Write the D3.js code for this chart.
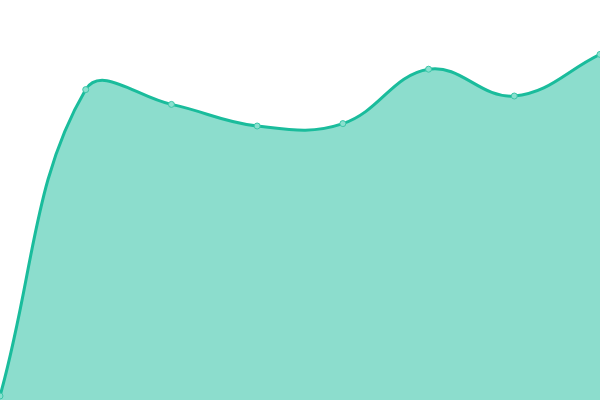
<html>
<head>
<style>
body{ margin:0; background:#fff; }
.area{ fill:#1abc9c; fill-opacity:0.5; stroke:none; }
.line{ fill:none; stroke:#1abc9c; stroke-width:3px; }
.dot{ fill:#8ae0cf; stroke:#3cc6a8; stroke-width:1px; }
</style>
</head>
<body>
<div id="chart"></div>
<script src="https://cdn.jsdelivr.net/npm/d3@7"></script>
<script>
var labels  = ['1', '2', '3', '4', '5', '6', '7', '8'],
    values  = [1, 77.6, 73.9, 68.5, 69.1, 82.7, 76, 86.4],
    tension = 0.4,
    width   = 600,
    height  = 400;

var x = d3.scalePoint().domain(labels).range([0, width]);
var y = d3.scaleLinear().domain([0, 100]).range([height, 0]);

var svg = d3.select('#chart')
    .append('svg')
    .attr('width', width)
    .attr('height', height);

// distance weighted spline, like the one the original chart used
function splinePath(pts, p) {
    var n = pts.length, cps = [];
    pts.forEach(function(cur, i) {
        var prev = pts[Math.max(i - 1, 0)],
            next = pts[Math.min(i + 1, n - 1)],
            d01 = Math.hypot(cur[0] - prev[0], cur[1] - prev[1]),
            d12 = Math.hypot(next[0] - cur[0], next[1] - cur[1]),
            s01 = d01 / (d01 + d12) || 0,
            s12 = d12 / (d01 + d12) || 0,
            fa = tension * s01,
            fb = tension * s12;
        cps.push({
            inX: cur[0] - fa * (next[0] - prev[0]),
            inY: cur[1] - fa * (next[1] - prev[1]),
            outX: cur[0] + fb * (next[0] - prev[0]),
            outY: cur[1] + fb * (next[1] - prev[1])
        });
    });
    p.moveTo(pts[0][0], pts[0][1]);
    for (var i = 1; i < n; i++) {
        p.bezierCurveTo(cps[i - 1].outX, cps[i - 1].outY, cps[i].inX, cps[i].inY, pts[i][0], pts[i][1]);
    }
    return p;
}

var pts = values.map(function(d, i) { return [x(labels[i]), y(d)]; });

var line = splinePath(pts, d3.path());
var area = splinePath(pts, d3.path());
area.lineTo(x(labels[labels.length - 1]), y(0));
area.lineTo(x(labels[0]), y(0));
area.closePath();

svg.append('path').attr('class', 'area').attr('d', area.toString());
svg.append('path').attr('class', 'line').attr('d', line.toString());

svg.selectAll('.dot')
    .data(values)
    .enter().append('circle')
    .attr('class', 'dot')
    .attr('cx', function(d, i) { return x(labels[i]); })
    .attr('cy', function(d) { return y(d); })
    .attr('r', 3);
</script>
</body>
</html>
